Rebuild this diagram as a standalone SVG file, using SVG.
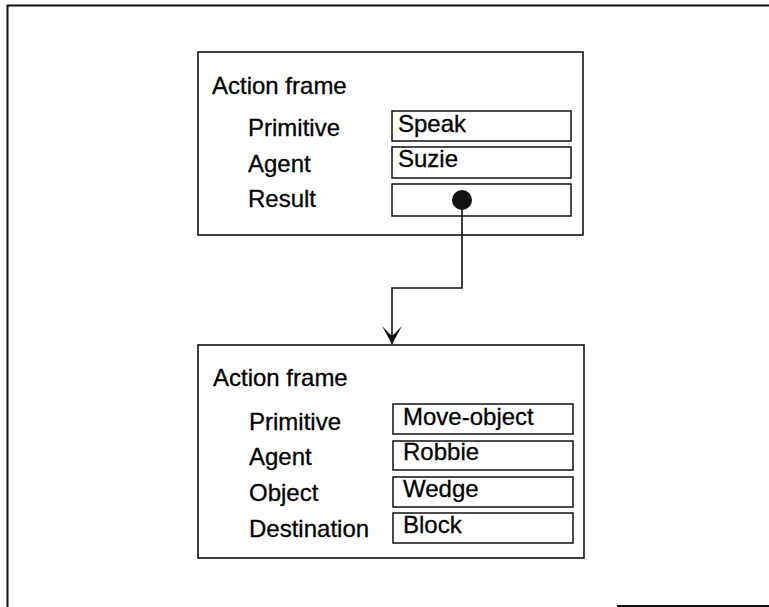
<svg xmlns="http://www.w3.org/2000/svg" width="769" height="607" viewBox="0 0 769 607">
  <style>
    .frame { fill: #fff; stroke: #111; stroke-width: 1.6; }
    .slot { fill: #fff; stroke: #111; stroke-width: 1.5; }
    .txt { font-family: "Liberation Sans", Arial, sans-serif; font-size: 24px; fill: #000; stroke: #000; stroke-width: 0.3; }
    .edge { fill: none; stroke: #111; stroke-width: 1.6; }
    .border { fill: none; stroke: #111; stroke-width: 2; }
  </style>
  <defs>
    <!-- notched arrowhead, tip at the path end -->
    <marker id="arrow" viewBox="-19 -11 20 22" refX="0" refY="0" markerWidth="20" markerHeight="22" markerUnits="userSpaceOnUse" orient="auto" overflow="visible">
      <path d="M0,0 L-18,-10 L-8,0 L-18,10 Z" fill="#111"/>
    </marker>
  </defs>
  <rect width="769" height="607" fill="#fff"/>

  <!-- page border -->
  <path class="border" d="M7.5,607 V5.5 H769"/>
  <path class="border" d="M617,606 H769"/>

  <!-- speak action -->
  <g id="frame-speak">
    <rect class="frame" x="198" y="52" width="385" height="183"/>
    <text class="txt" x="212" y="94">Action frame</text>
    <text class="txt" x="248" y="136">Primitive</text>
    <text class="txt" x="248" y="172">Agent</text>
    <text class="txt" x="248" y="207">Result</text>
    <rect class="slot" x="392" y="111" width="179" height="30"/>
    <rect class="slot" x="392" y="147" width="179" height="31"/>
    <rect class="slot" x="392" y="184" width="179" height="32"/>
    <text class="txt" x="398" y="132">Speak</text>
    <text class="txt" x="398" y="167">Suzie</text>
    <circle cx="462" cy="200" r="10" fill="#111"/>
  </g>

  <!-- move-object action -->
  <g id="frame-move">
    <rect class="frame" x="198" y="345" width="386" height="213"/>
    <text class="txt" x="213" y="386">Action frame</text>
    <text class="txt" x="249" y="430">Primitive</text>
    <text class="txt" x="249" y="465">Agent</text>
    <text class="txt" x="249" y="501">Object</text>
    <text class="txt" x="249" y="537">Destination</text>
    <rect class="slot" x="393" y="404" width="180" height="30"/>
    <rect class="slot" x="393" y="441" width="180" height="29"/>
    <rect class="slot" x="393" y="477" width="180" height="30"/>
    <rect class="slot" x="393" y="513" width="180" height="30"/>
    <text class="txt" x="403" y="425">Move-object</text>
    <text class="txt" x="403" y="460">Robbie</text>
    <text class="txt" x="403" y="497">Wedge</text>
    <text class="txt" x="403" y="533">Block</text>
  </g>

  <!-- result pointer -->
  <g id="connectors">
    <path class="edge" d="M462,200 V288 H392 V344" marker-end="url(#arrow)"/>
  </g>
</svg>
